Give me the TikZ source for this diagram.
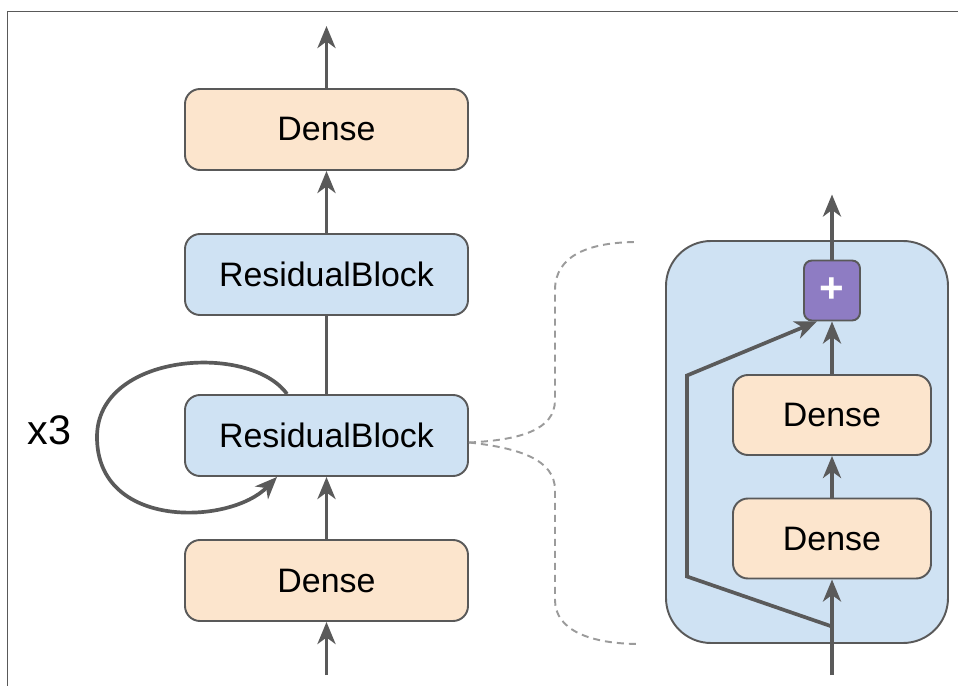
\documentclass[tikz,border=0pt]{standalone}
\usepackage{fontspec}
\setmainfont{Liberation Sans}
\usepackage{xcolor}
\definecolor{edgegray}{RGB}{89,89,89}
\definecolor{arrgray}{RGB}{90,90,90}
\definecolor{densefill}{RGB}{252,229,205}
\definecolor{resfill}{RGB}{207,226,243}
\definecolor{plusfill}{RGB}{142,124,195}
\definecolor{dashgray}{RGB}{155,155,155}
\usepackage{tikz}
\usetikzlibrary{arrows.meta, positioning}

\begin{document}
\begin{tikzpicture}[
  dense/.style={
    rectangle, rounded corners=0.3cm, draw=edgegray, fill=densefill,
    line width=1.1pt, minimum width=5.66cm, minimum height=1.62cm,
    align=center, font=\fontsize{19.3}{23}\selectfont, inner sep=0pt
  },
  resblk/.style={
    dense, fill=resfill
  },
  addbox/.style={
    rectangle, rounded corners=0.16cm, draw=edgegray, fill=plusfill,
    line width=1.1pt, minimum width=1.12cm, minimum height=1.2cm,
    font=\fontsize{24}{26}\selectfont\bfseries\color{white}, inner sep=0pt
  },
  arr/.style={-{Stealth[length=0.44cm, width=0.36cm, inset=0.13cm]}, line width=2.1pt, color=arrgray},
  plain/.style={line width=2.1pt, color=arrgray},
  zoomline/.style={line width=1.1pt, color=dashgray, dash pattern=on 0.14cm off 0.1cm},
]
\useasboundingbox (0,0) rectangle (19.16,-13.72);

%% Marco
\draw[line width=0.9pt, color=edgegray] (0.146,-13.72) -- (0.146,-0.234) -- (19.16,-0.234);

%% Modelo principal
\node[dense]  (dtop) at (6.53,  -2.59)  {Dense};
\node[resblk] (rb1)  at (6.53,  -5.49)  {ResidualBlock};
\node[resblk] (rb2)  at (6.53,  -8.71)  {ResidualBlock};
\node[dense]  (dbot) at (6.53, -11.61)  {Dense};
\node[font=\fontsize{23.5}{26}\selectfont] (rep) at (0.99, -8.61) {x3};

\coordinate (outl) at (6.53, -0.52);
\coordinate (inl)  at (6.53, -13.5);

%% Detalle del bloque residual
\node[rectangle, rounded corners=0.9cm, draw=edgegray, fill=resfill, line width=1.1pt,
      minimum width=5.64cm, minimum height=8.04cm] (blk) at (16.14, -8.84) {};
\node[addbox] (plus) at (16.64,  -5.81) {+};
\node[dense, minimum width=3.96cm, minimum height=1.6cm] (d2) at (16.64,  -8.30) {Dense};
\node[dense, minimum width=3.96cm, minimum height=1.6cm] (d1) at (16.64, -10.77) {Dense};

\coordinate (outr)  at (16.64,  -3.89);
\coordinate (inr)   at (16.64, -13.5);
\coordinate (split) at (16.64, -12.53);
\coordinate (sk1)   at (13.74, -11.53);
\coordinate (sk2)   at (13.74,  -7.51);

%% Flechas
\draw[arr]   (dtop) -- (outl);
\draw[arr]   (rb1)  -- (dtop);
\draw[plain] (rb2)  -- (rb1);
\draw[arr]   (dbot) -- (rb2);
\draw[arr]   (inl)  -- (dbot);

\draw[arr] (plus) -- (outr);
\draw[arr] (d2)   -- (plus);
\draw[arr] (d1)   -- (d2);
\draw[arr] (inr)  -- (d1);
\draw[arr] (split) -- (sk1) -- (sk2) -- ([xshift=0.28cm]plus.south west);

%% Bucle de repeticion
\draw[arr] ([xshift=-0.79cm]rb2.north)
  .. controls (5.0,-6.85) and (1.94,-7.05) .. (1.94,-8.74)
  .. controls (1.94,-10.6) and (4.6,-10.5) .. ([xshift=-0.99cm]rb2.south);

%% Lineas de zoom
\coordinate (zt) at (12.76, -4.84);
\coordinate (zb) at (12.8, -12.88);
\draw[zoomline] ([yshift=-0.14cm]rb2.east)
  .. controls (10.4,-8.8) and (11.1,-8.6) .. (11.1,-8.0) -- (11.1,-5.8)
  .. controls (11.1,-5.1) and (11.8,-4.84) .. (zt);
\draw[zoomline] ([yshift=-0.14cm]rb2.east)
  .. controls (10.4,-8.96) and (11.1,-9.2) .. (11.1,-9.8) -- (11.1,-12.0)
  .. controls (11.1,-12.6) and (11.8,-12.88) .. (zb);

\end{tikzpicture}
\end{document}
